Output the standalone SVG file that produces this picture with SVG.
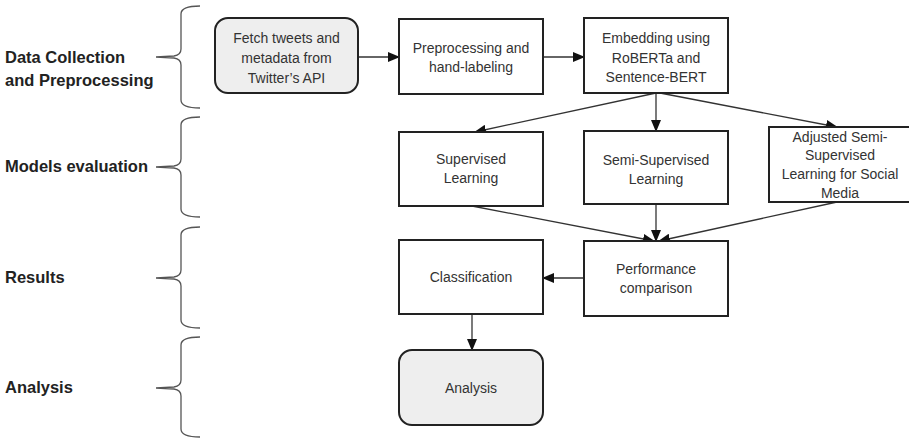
<svg xmlns="http://www.w3.org/2000/svg" width="909" height="440" viewBox="0 0 909 440">
  <style>
    .stage { font-family: "Liberation Sans", Arial, sans-serif; font-size: 16.5px; font-weight: bold; fill: #222; }
    .brace { fill: none; stroke: #555; stroke-width: 1.3; }
    .box { fill: #fff; stroke: #222; stroke-width: 2; }
    .term { fill: #eeeeee; stroke: #222; stroke-width: 2; }
    .lbl { font-family: "Liberation Sans", Arial, sans-serif; font-size: 14px; fill: #333; text-anchor: middle; }
    .edge { fill: none; stroke: #333; stroke-width: 1.3; marker-end: url(#arrow); }
  </style>
  <defs>
    <marker id="arrow" markerUnits="userSpaceOnUse" markerWidth="12" markerHeight="10" refX="11" refY="5" orient="auto">
      <path d="M0,0 L12,5 L0,10 Z" fill="#111"/>
    </marker>
  </defs>
  <rect width="909" height="440" fill="#fff"/>

  <!-- stage labels and braces -->
  <g id="stage-data">
    <text class="stage" x="5" y="63">Data Collection</text>
    <text class="stage" x="5" y="86">and Preprocessing</text>
    <path class="brace" d="M200,6 Q181,6 181,14 L181,49 Q181,55 174,56 L156,57 L174,58 Q181,59 181,65 L181,100 Q181,108 200,108"/>
  </g>
  <g id="stage-models">
    <text class="stage" x="5" y="172">Models evaluation</text>
    <path class="brace" d="M200,117 Q181,117 181,125 L181,159 Q181,165 174,166 L156,167 L174,168 Q181,169 181,175 L181,209 Q181,217 200,217"/>
  </g>
  <g id="stage-results">
    <text class="stage" x="5" y="283">Results</text>
    <path class="brace" d="M200,227 Q181,227 181,235 L181,270 Q181,276 174,277 L156,278 L174,279 Q181,280 181,286 L181,320 Q181,328 200,328"/>
  </g>
  <g id="stage-analysis">
    <text class="stage" x="5" y="393">Analysis</text>
    <path class="brace" d="M200,337 Q181,337 181,345 L181,380 Q181,386 174,387 L156,388 L174,389 Q181,390 181,396 L181,429 Q181,437 200,437"/>
  </g>

  <!-- connectors -->
  <g id="connectors">
    <line class="edge" x1="358" y1="57" x2="399" y2="57"/>
    <line class="edge" x1="543" y1="57" x2="584" y2="57"/>
    <line class="edge" x1="656" y1="93" x2="475" y2="132"/>
    <line class="edge" x1="656" y1="93" x2="656" y2="131"/>
    <line class="edge" x1="660" y1="93" x2="837" y2="127"/>
    <line class="edge" x1="472" y1="206" x2="654" y2="241"/>
    <line class="edge" x1="656" y1="204" x2="656" y2="241"/>
    <line class="edge" x1="837" y1="202" x2="659" y2="241"/>
    <line class="edge" x1="584" y1="278" x2="543" y2="278"/>
    <line class="edge" x1="472" y1="314" x2="472" y2="350"/>
  </g>

  <!-- nodes -->
  <g id="fetch">
    <rect class="term" x="215" y="18" width="143" height="75" rx="13"/>
    <text class="lbl" x="286.5" y="43">Fetch tweets and</text>
    <text class="lbl" x="286.5" y="63">metadata from</text>
    <text class="lbl" x="286.5" y="83">Twitter’s API</text>
  </g>
  <g id="preprocess">
    <rect class="box" x="399" y="19" width="144" height="75"/>
    <text class="lbl" x="471" y="53">Preprocessing and</text>
    <text class="lbl" x="471" y="72">hand-labeling</text>
  </g>
  <g id="embedding">
    <rect class="box" x="584" y="18" width="144" height="75"/>
    <text class="lbl" x="656" y="43">Embedding using</text>
    <text class="lbl" x="656" y="63">RoBERTa and</text>
    <text class="lbl" x="656" y="82">Sentence-BERT</text>
  </g>
  <g id="supervised">
    <rect class="box" x="399" y="132" width="144" height="74"/>
    <text class="lbl" x="471" y="164">Supervised</text>
    <text class="lbl" x="471" y="183">Learning</text>
  </g>
  <g id="semi-supervised">
    <rect class="box" x="584" y="131" width="144" height="73"/>
    <text class="lbl" x="656" y="165">Semi-Supervised</text>
    <text class="lbl" x="656" y="184">Learning</text>
  </g>
  <g id="adjusted">
    <rect class="box" x="769" y="127" width="142" height="75"/>
    <text class="lbl" x="840" y="142">Adjusted Semi-</text>
    <text class="lbl" x="840" y="160">Supervised</text>
    <text class="lbl" x="840" y="179">Learning for Social</text>
    <text class="lbl" x="840" y="198">Media</text>
  </g>
  <g id="classification">
    <rect class="box" x="399" y="240" width="144" height="74"/>
    <text class="lbl" x="471" y="282">Classification</text>
  </g>
  <g id="performance">
    <rect class="box" x="584" y="241" width="144" height="75"/>
    <text class="lbl" x="656" y="274">Performance</text>
    <text class="lbl" x="656" y="293">comparison</text>
  </g>
  <g id="analysis">
    <rect class="term" x="399" y="350" width="144" height="75" rx="13"/>
    <text class="lbl" x="471" y="393">Analysis</text>
  </g>
</svg>
